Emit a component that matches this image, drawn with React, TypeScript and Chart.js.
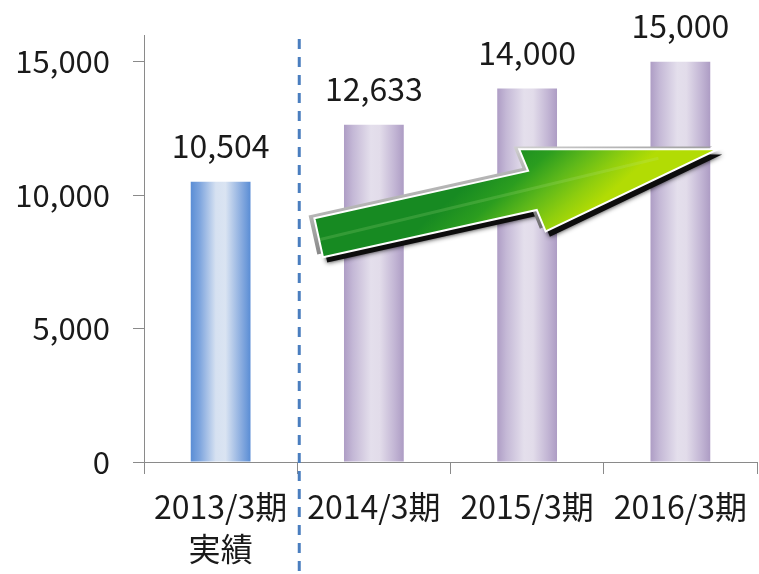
import React, { useEffect, useRef } from "react";
import { Chart, registerables } from "chart.js";

Chart.register(...registerables);

const categories: (string | string[])[] = [["2013/3期", "実績"], "2014/3期", "2015/3期", "2016/3期"];
const values: number[] = [10504, 12633, 14000, 15000];
const yTicks: number[] = [0, 5000, 10000, 15000];
const yMax = 16000;
// arrow anchors in (category index, value) space
const arrowTail = { i: 0.64, v: 8400 };
const arrowTip = { i: 3.245, v: 11720 };

const FONT = "'Noto Sans CJK JP', 'Noto Sans', sans-serif";

const fmt = (n: number) => n.toLocaleString("en-US");

export default function App() {
  const ref = useRef<HTMLCanvasElement | null>(null);

  useEffect(() => {
    const canvas = ref.current;
    if (!canvas) return;

    const barFill = (context: any) => {
      const chart = context.chart;
      const xs = chart.scales?.x;
      if (!xs || !chart.chartArea) return "#b1a0c7";
      const i = context.dataIndex;
      const cx = xs.getPixelForValue(i);
      const hw = (xs.width / categories.length) * 0.39 / 2;
      const g = chart.ctx.createLinearGradient(cx - hw, 0, cx + hw, 0);
      if (i === 0) {
        g.addColorStop(0, "#5a8dd5");
        g.addColorStop(0.15, "#7ea5de");
        g.addColorStop(0.42, "#d6e1f1");
        g.addColorStop(0.58, "#dae4f2");
        g.addColorStop(0.85, "#88abdf");
        g.addColorStop(1, "#5a8dd5");
      } else {
        g.addColorStop(0, "#ae9dc5");
        g.addColorStop(0.15, "#c4b8d6");
        g.addColorStop(0.45, "#e4dfec");
        g.addColorStop(0.6, "#e2dcea");
        g.addColorStop(0.85, "#c2b5d4");
        g.addColorStop(1, "#ad9cc4");
      }
      return g;
    };

    const labelsPlugin = {
      id: "valueLabels",
      afterDatasetsDraw(chart: any) {
        const ctx = chart.ctx;
        const meta = chart.getDatasetMeta(0);
        ctx.save();
        ctx.fillStyle = "#1a1a1a";
        ctx.font = `32px ${FONT}`;
        ctx.textAlign = "center";
        ctx.textBaseline = "middle";
        meta.data.forEach((bar: any, idx: number) => {
          ctx.fillText(fmt(values[idx]), bar.x, bar.y - 36);
        });
        ctx.restore();
      },
    };

    const dividerPlugin = {
      id: "divider",
      afterDraw(chart: any) {
        const xs = chart.scales.x;
        const x = (xs.getPixelForValue(0) + xs.getPixelForValue(1)) / 2 + 2;
        const ctx = chart.ctx;
        ctx.save();
        ctx.strokeStyle = "#4a7ebf";
        ctx.lineWidth = 3;
        ctx.setLineDash([10, 8]);
        ctx.beginPath();
        ctx.moveTo(x, chart.chartArea.top + 4);
        ctx.lineTo(x, chart.height);
        ctx.stroke();
        ctx.restore();
      },
    };

    const arrowPlugin = {
      id: "arrow",
      afterDatasetsDraw(chart: any) {
        const xs = chart.scales.x;
        const ys = chart.scales.y;
        const step = xs.getPixelForValue(1) - xs.getPixelForValue(0);
        const tx = xs.getPixelForValue(0) + step * arrowTail.i;
        const ty = ys.getPixelForValue(arrowTail.v);
        const px = xs.getPixelForValue(0) + step * arrowTip.i;
        const py = ys.getPixelForValue(arrowTip.v);
        const dx = px - tx;
        const dy = py - ty;
        const L = Math.sqrt(dx * dx + dy * dy);
        const ang = Math.atan2(dy, dx);
        const w = 20;
        const hw = 43;
        const hl = 190;
        const ctx = chart.ctx;
        const path = () => {
          ctx.beginPath();
          ctx.moveTo(0, -w);
          ctx.lineTo(L - hl, -w);
          ctx.lineTo(L - hl - 4, -hw);
          ctx.lineTo(L, 0);
          ctx.lineTo(L - hl + 4, hw);
          ctx.lineTo(L - hl, w);
          ctx.lineTo(0, w);
          ctx.closePath();
        };
        ctx.save();
        ctx.translate(tx, ty);
        ctx.rotate(ang);
        // dark shadow
        ctx.save();
        ctx.translate(3, 6);
        ctx.shadowColor = "rgba(0,0,0,0.9)";
        ctx.shadowBlur = 5;
        path();
        ctx.fillStyle = "#0d0d0d";
        ctx.fill();
        ctx.restore();
        // gray bevel
        ctx.save();
        ctx.translate(-5, -4);
        path();
        const gg = ctx.createLinearGradient(0, -hw, 0, hw);
        gg.addColorStop(0, "#d0d0d0");
        gg.addColorStop(1, "#6e6e6e");
        ctx.fillStyle = gg;
        ctx.fill();
        ctx.restore();
        // green body
        path();
        const g = ctx.createLinearGradient(L * 0.4, -w * 1.2, L * 0.52, hw * 1.5);
        g.addColorStop(0, "#178a22");
        g.addColorStop(0.3, "#2b9d1f");
        g.addColorStop(0.55, "#5db81a");
        g.addColorStop(0.8, "#8fce0e");
        g.addColorStop(1, "#b2dc04");
        ctx.fillStyle = g;
        ctx.fill();
        // subtle highlight line along body
        ctx.save();
        path();
        ctx.clip();
        ctx.strokeStyle = "rgba(190,235,150,0.18)";
        ctx.lineWidth = 3;
        ctx.beginPath();
        ctx.moveTo(0, 2);
        ctx.lineTo(L - 60, -4);
        ctx.stroke();
        ctx.restore();
        path();
        ctx.strokeStyle = "#ffffff";
        ctx.lineWidth = 2;
        ctx.stroke();
        ctx.restore();
      },
    };

    const chart = new Chart(canvas, {
      type: "bar",
      data: {
        labels: categories,
        datasets: [
          {
            data: values,
            backgroundColor: barFill,
            borderWidth: 0,
            barPercentage: 0.39,
            categoryPercentage: 1,
          },
        ],
      },
      options: {
        responsive: false,
        animation: false,
        devicePixelRatio: 1,
        layout: { padding: { top: 35, right: 2, left: 0, bottom: 0 } },
        plugins: { legend: { display: false }, tooltip: { enabled: false } },
        scales: {
          x: {
            grid: { display: true, drawOnChartArea: false, tickLength: 12, color: "#8a8a8a", offset: true },
            border: { display: true, color: "#8a8a8a", width: 1 },
            ticks: {
              color: "#1a1a1a",
              font: { family: FONT, size: 32, lineHeight: 1.3 },
              padding: 12,
              maxRotation: 0,
              autoSkip: false,
            },
            afterFit: (s: any) => {
              s.height = 112;
              s.paddingLeft = 0;
              s.paddingRight = 0;
            },
          },
          y: {
            min: 0,
            max: yMax,
            grid: { display: true, drawOnChartArea: false, tickLength: 11, color: "#8a8a8a" },
            border: { display: true, color: "#8a8a8a", width: 1 },
            ticks: {
              color: "#1a1a1a",
              font: { family: FONT, size: 31 },
              padding: 23,
              callback: (v: any) => fmt(Number(v)),
            },
            afterBuildTicks: (s: any) => {
              s.ticks = yTicks.map((v) => ({ value: v }));
            },
            afterFit: (s: any) => {
              s.width = 144;
              s.paddingTop = 0;
              s.paddingBottom = 0;
            },
          },
        },
      },
      plugins: [labelsPlugin, arrowPlugin, dividerPlugin],
    });

    return () => chart.destroy();
  }, []);

  return (
    <div style={{ position: "fixed", left: 0, top: 0, width: 759, height: 574, background: "#fff" }}>
      <canvas ref={ref} width={759} height={574} style={{ width: 759, height: 574 }} />
    </div>
  );
}
